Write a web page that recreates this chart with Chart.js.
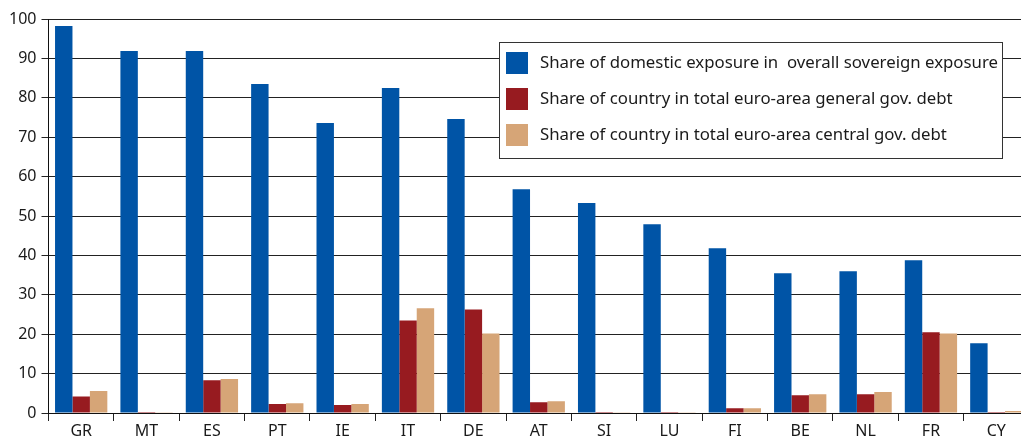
<!DOCTYPE html>
<html>
<head>
<meta charset="utf-8">
<script src="https://cdn.jsdelivr.net/npm/chart.js@4/dist/chart.umd.min.js"></script>
<style>
  html, body { margin: 0; padding: 0; background: #fff; overflow: hidden; }
  #wrap { width: 1030px; height: 439px; }
</style>
</head>
<body>
<div id="wrap"><canvas id="debtChart" width="1030" height="439"></canvas></div>
<script>
const countries = ['GR', 'MT', 'ES', 'PT', 'IE', 'IT', 'DE', 'AT', 'SI', 'LU', 'FI', 'BE', 'NL', 'FR', 'CY'];
const domesticShare = [98.2, 91.9, 91.9, 83.5, 73.6, 82.5, 74.6, 56.8, 53.3, 47.9, 41.8, 35.5, 36.0, 38.8, 17.7];
const generalDebtShare = [4.2, 0.25, 8.3, 2.3, 2.0, 23.5, 26.3, 2.7, 0.25, 0.25, 1.2, 4.5, 4.75, 20.5, 0.25];
const centralDebtShare = [5.6, 0.2, 8.6, 2.5, 2.3, 26.6, 20.2, 3.0, 0.2, 0.2, 1.2, 4.75, 5.3, 20.2, 0.5];
const seriesNames = [
  'Share of domestic exposure in  overall sovereign exposure',
  'Share of country in total euro-area general gov. debt',
  'Share of country in total euro-area central gov. debt'
];
const colors = ['#0054a6', '#971b20', '#d6a577'];
const yTicks = [0, 10, 20, 30, 40, 50, 60, 70, 80, 90, 100];

const fontFamily = '"Noto Sans", "DejaVu Sans", sans-serif';

// legend box drawn inside the plot, top right
const boxLegend = {
  id: 'boxLegend',
  afterDraw(chart) {
    const c = chart.ctx;
    const x = 499.5, y = 42.5, w = 503, h = 116;
    c.save();
    c.fillStyle = '#fff';
    c.fillRect(x, y, w, h);
    c.strokeStyle = '#333';
    c.lineWidth = 1;
    c.strokeRect(x, y, w, h);
    c.font = '16.8px ' + fontFamily;
    c.textBaseline = 'middle';
    chart.data.datasets.forEach((ds, i) => {
      const top = 52 + i * 36;
      c.fillStyle = ds.backgroundColor;
      c.fillRect(506, top, 22, 22);
      c.fillStyle = '#1a1a1a';
      c.fillText(ds.label, 540, top + 11);
    });
    c.restore();
  }
};

const ctx = document.getElementById('debtChart').getContext('2d');
const chart = new Chart(ctx, {
  type: 'bar',
  data: {
    labels: countries,
    datasets: [
      { label: seriesNames[0], data: domesticShare, backgroundColor: colors[0] },
      { label: seriesNames[1], data: generalDebtShare, backgroundColor: colors[1] },
      { label: seriesNames[2], data: centralDebtShare, backgroundColor: colors[2] }
    ]
  },
  options: {
    responsive: false,
    animation: false,
    layout: { padding: { top: 19, left: 0, right: 1, bottom: 0 } },
    datasets: {
      bar: { categoryPercentage: 0.8, barPercentage: 1.0, borderWidth: 0 }
    },
    plugins: {
      legend: { display: false },
      tooltip: { enabled: false }
    },
    scales: {
      x: {
        grid: { display: true, offset: true, drawOnChartArea: false, color: '#222', tickLength: 8 },
        border: { display: true, color: '#111', width: 1 },
        ticks: { color: '#1a1a1a', font: { family: fontFamily, size: 16 }, padding: 1, maxRotation: 0 },
        afterFit(scale) { scale.height = 26; }
      },
      y: {
        min: 0,
        max: 100,
        afterBuildTicks(scale) { scale.ticks = yTicks.map(v => ({ value: v })); },
        grid: { color: '#222', lineWidth: 1, tickLength: 7 },
        border: { display: true, color: '#111', width: 1 },
        ticks: { color: '#1a1a1a', font: { family: fontFamily, size: 16 }, padding: 5 },
        afterFit(scale) { scale.width = 48.5; }
      }
    }
  },
  plugins: [boxLegend]
});
</script>
</body>
</html>
